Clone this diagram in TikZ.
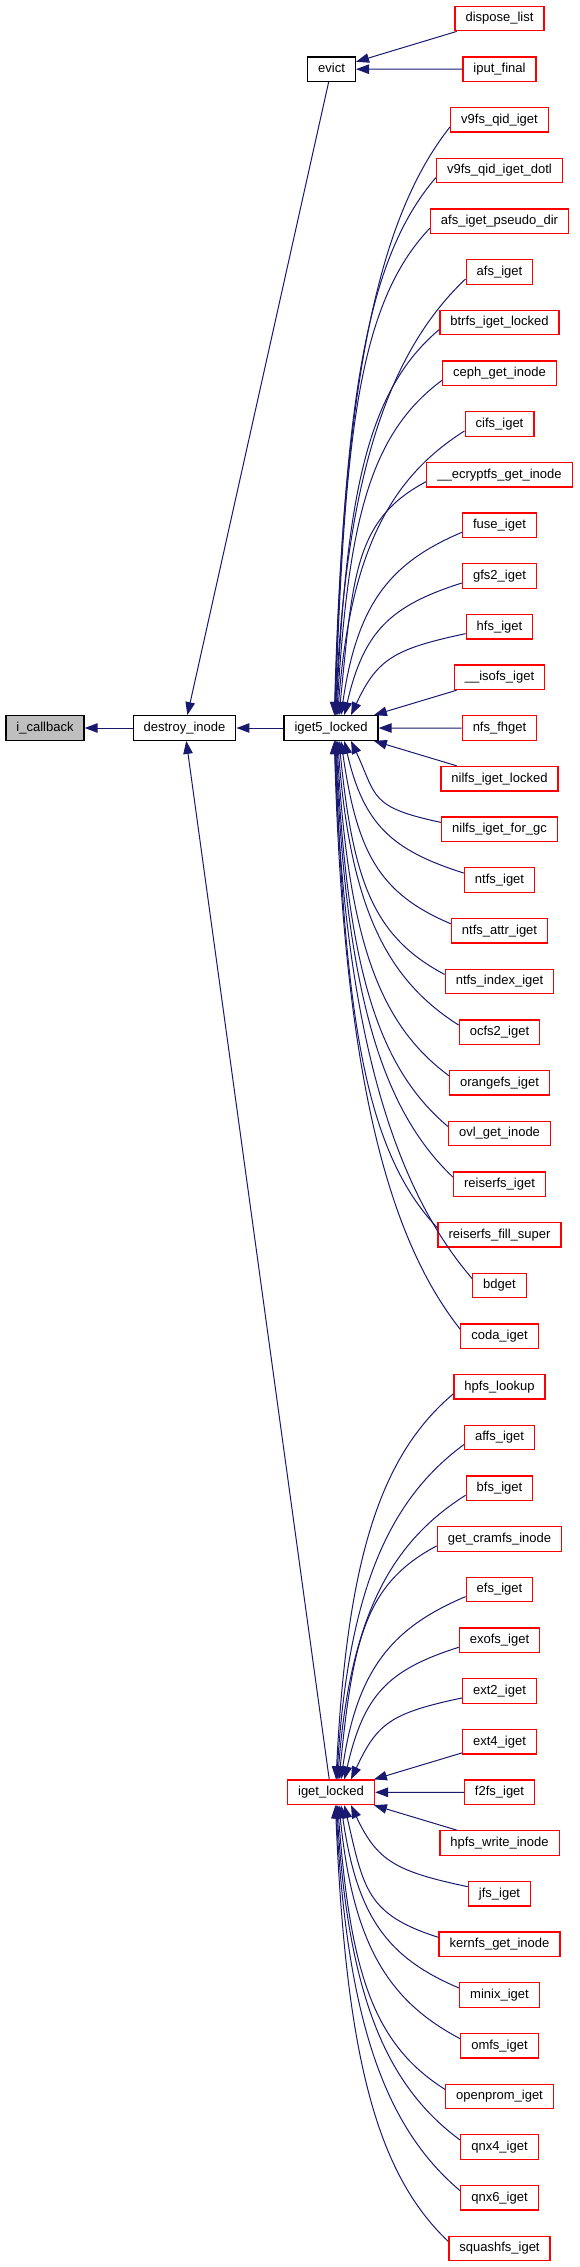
\documentclass[tikz,border=0pt]{standalone}
\usepackage{fontspec}
\setmainfont{Liberation Sans}
\usetikzlibrary{arrows.meta, positioning, calc}
\definecolor{EdgeColor}{RGB}{25,25,112}
\definecolor{TruncColor}{RGB}{255,0,0}
\definecolor{RootFill}{RGB}{191,191,191}
\tikzset{
  fn/.style={draw=black, line width=1.3pt, minimum height=24.5pt, inner xsep=10.5pt, inner ysep=0pt,
    text height=9.5pt, text depth=2.7pt, font=\fontsize{13}{15}\selectfont},
  trunc/.style={fn, draw=TruncColor},
  root/.style={fn, fill=RootFill},
  call/.style={EdgeColor, line width=1pt, -{Triangle[length=13pt,width=9.5pt]}},
}

\begin{document}
\begin{tikzpicture}[x=1pt,y=1pt]
          \useasboundingbox (0,0) rectangle (579,-2267);

          \node[root] (icallback) at (45,-728) {i\_callback};
          \node[fn] (destroyinode) at (184.5,-728) {destroy\_inode};
          \node[fn] (iget5) at (331,-728) {iget5\_locked};
          \node[fn] (evict) at (331.5,-69.2) {evict};
          \node[trunc] (igetlocked) at (331,-1792.3) {iget\_locked};

          \foreach \r/\lbl in {0/dispose\_list, 1/iput\_final, 2/v9fs\_qid\_iget, 3/v9fs\_qid\_iget\_dotl,
            4/afs\_iget\_pseudo\_dir, 5/afs\_iget, 6/btrfs\_iget\_locked, 7/ceph\_get\_inode, 8/cifs\_iget,
            9/\_\_ecryptfs\_get\_inode, 10/fuse\_iget, 11/gfs2\_iget, 12/hfs\_iget, 13/\_\_isofs\_iget,
            14/nfs\_fhget, 15/nilfs\_iget\_locked, 16/nilfs\_iget\_for\_gc, 17/ntfs\_iget, 18/ntfs\_attr\_iget,
            19/ntfs\_index\_iget, 20/ocfs2\_iget, 21/orangefs\_iget, 22/ovl\_get\_inode, 23/reiserfs\_iget,
            24/reiserfs\_fill\_super, 25/bdget, 26/coda\_iget, 27/hpfs\_lookup, 28/affs\_iget, 29/bfs\_iget,
            30/get\_cramfs\_inode, 31/efs\_iget, 32/exofs\_iget, 33/ext2\_iget, 34/ext4\_iget, 35/f2fs\_iget,
            36/hpfs\_write\_inode, 37/jfs\_iget, 38/kernfs\_get\_inode, 39/minix\_iget, 40/omfs\_iget,
            41/openprom\_iget, 42/qnx4\_iget, 43/qnx6\_iget, 44/squashfs\_iget}
            \node[trunc] (f\r) at (499.5,{-18.5-50.68*\r}) {\lbl};

          \draw[call] (destroyinode) -- (icallback);
          \draw[call] (iget5) -- (destroyinode);
          \draw[call] (evict) -- (destroyinode);
          \draw[call] (igetlocked) -- (destroyinode);
          \draw[call] (f0) -- (evict);
          \draw[call] (f1) -- (evict);
          \foreach \r in {13,14,15}
            \draw[call] (f\r) -- (iget5);
          \foreach \r in {34,35,36}
            \draw[call] (f\r) -- (igetlocked);

          \foreach \r in {2,...,12}
          {
            \pgfmathsetmacro{\dd}{50.68*(14-\r)}
            \pgfmathsetmacro{\s}{40/(14-\r)}
            \draw[call] ([yshift=-7pt]f\r.west) .. controls +(-72,-0.15*\dd) and +(6+\s,0.55*\dd) .. ([xshift=\s pt]iget5.north);
          }
          \foreach \r in {16,...,26}
          {
            \pgfmathsetmacro{\dd}{50.68*(\r-14)}
            \pgfmathsetmacro{\s}{40/(\r-14)}
            \draw[call] ([yshift=7pt]f\r.west) .. controls +(-72,0.15*\dd) and +(6+\s,-0.55*\dd) .. ([xshift=\s pt]iget5.south);
          }
          \foreach \r in {27,...,33}
          {
            \pgfmathsetmacro{\dd}{50.68*(35-\r)}
            \pgfmathsetmacro{\s}{40/(35-\r)}
            \draw[call] ([yshift=-7pt]f\r.west) .. controls +(-72,-0.15*\dd) and +(6+\s,0.55*\dd) .. ([xshift=\s pt]igetlocked.north);
          }
          \foreach \r in {37,...,44}
          {
            \pgfmathsetmacro{\dd}{50.68*(\r-35)}
            \pgfmathsetmacro{\s}{40/(\r-35)}
            \draw[call] ([yshift=7pt]f\r.west) .. controls +(-72,0.15*\dd) and +(6+\s,-0.55*\dd) .. ([xshift=\s pt]igetlocked.south);
          }
        \end{tikzpicture}
\end{document}
